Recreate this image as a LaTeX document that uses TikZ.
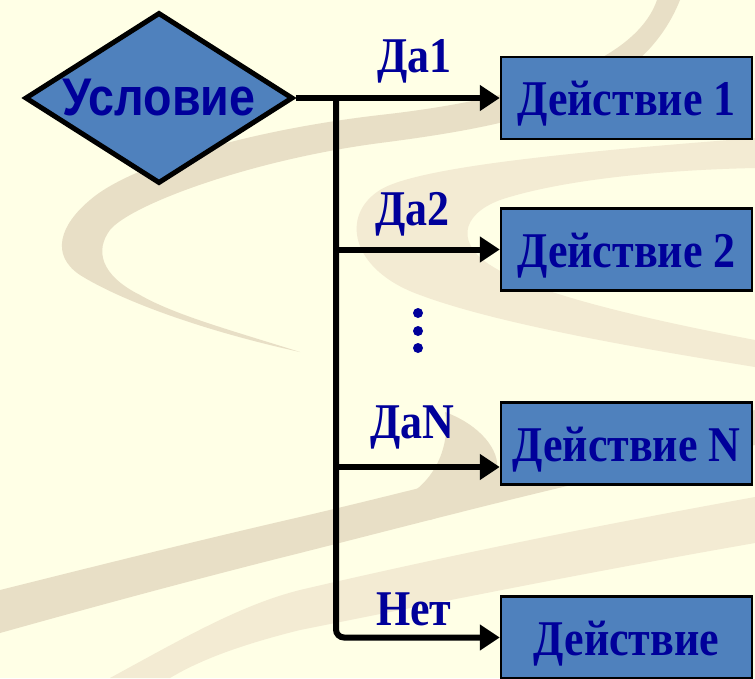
\documentclass[tikz,border=0pt]{standalone}
\usepackage{fontspec}
\usetikzlibrary{shapes.geometric,arrows.meta}
\newfontfamily\serifru[FakeStretch=0.88]{Liberation Serif}
\newfontfamily\sansru[FakeStretch=0.88]{Liberation Sans}
\definecolor{bg}{HTML}{FFFFE6}
\definecolor{bandd}{HTML}{E8DFC6}
\definecolor{bandl}{HTML}{F3EBD3}
\definecolor{boxblue}{HTML}{4F81BD}
\definecolor{navy}{HTML}{00009A}
\tikzset{
  actbox/.style={draw=black, line width=2.5pt, fill=boxblue, minimum width=251pt,
    minimum height=82pt, inner sep=0pt, text=navy, text height=35pt, text depth=0pt,
    font=\serifru\bfseries\fontsize{50}{50}\selectfont},
  decision/.style={diamond, draw=black, line width=5pt, fill=boxblue,
    minimum width=268pt, minimum height=171pt, inner sep=0pt},
  condtext/.style={inner sep=0pt, text=navy, font=\sansru\bfseries\fontsize{53}{53}\selectfont},
  lbl/.style={anchor=base west, inner sep=0pt, text=navy,
    font=\serifru\bfseries\fontsize{50}{50}\selectfont},
  conn/.style={line width=6pt, draw=black},
  arr/.style={conn, -{Triangle[length=20pt,width=25pt]}},
  dotnode/.style={circle, fill=navy, inner sep=0pt, minimum size=10pt}
}
\begin{document}
\begin{tikzpicture}[x=1pt, y=-1pt]
\useasboundingbox (0,0) rectangle (755,678);
\clip (0,0) rectangle (755,678);
\fill[bg] (0,0) rectangle (755,678);
% background swooshes
\fill[bandd] (657,0) .. controls (640,50) and (560,95) .. (380,115)
  .. controls (250,130) and (130,165) .. (90,200)
  .. controls (60,225) and (50,255) .. (80,275)
  .. controls (120,300) and (200,330) .. (300,352)
  .. controls (230,330) and (175,315) .. (140,295)
  .. controls (100,275) and (95,250) .. (110,230)
  .. controls (130,205) and (250,160) .. (380,143)
  .. controls (520,125) and (640,100) .. (680,0) -- cycle;
\fill[bandl] (755,138) .. controls (600,150) and (420,165) .. (380,190)
  .. controls (340,215) and (350,270) .. (420,295)
  .. controls (500,325) and (650,350) .. (755,367) -- (755,340)
  .. controls (650,320) and (540,295) .. (495,268)
  .. controls (455,245) and (460,215) .. (500,200)
  .. controls (560,180) and (660,170) .. (755,168) -- cycle;
\fill[bandd] (0,590) .. controls (100,565) and (200,540) .. (300,517)
  .. controls (450,482) and (600,440) .. (755,410) -- (755,445)
  .. controls (600,475) and (450,515) .. (300,553)
  .. controls (200,578) and (100,605) .. (0,633) -- cycle;
\fill[bandl] (110,678) .. controls (180,640) and (240,605) .. (300,590)
  .. controls (450,555) and (600,525) .. (755,497) -- (755,543)
  .. controls (600,570) and (450,600) .. (300,630)
  .. controls (240,645) and (200,660) .. (170,678) -- cycle;
\fill[bandd] (445,412) .. controls (480,425) and (500,450) .. (497,470)
  .. controls (494,490) and (470,505) .. (430,520) -- (400,500)
  .. controls (440,480) and (450,440) .. (445,412) -- cycle;
% diagram
\node[decision] (cond) at (159,98) {};
\node[condtext] (condt) at (cond.center) {Условие};
\node[actbox] (b1) at (626.5,98) {Действие 1};
\node[actbox] (b2) at (626.5,249.5) {Действие 2};
\node[actbox] (b3) at (626.5,443.5) {Действие N};
\node[actbox] (b4) at (626.5,637.5) {Действие};
\coordinate (j0) at (336,98);
\coordinate (j2) at (336,249.5);
\coordinate (j3) at (336,467);
\draw[arr] (cond.east) -- (b1.west);
\draw[arr, rounded corners=8pt] (j0) |- (b4.west);
\draw[arr] (j2) -- (j2 -| b2.west);
\draw[arr] (j3) -- (j3 -| b3.west);
\node[lbl] (l1) at (377,72) {Да1};
\node[lbl] (l2) at (375,225) {Да2};
\node[lbl] (l3) at (370,438) {ДаN};
\node[lbl] (l4) at (376,625) {Нет};
\node[dotnode] (d1) at (418,313) {};
\node[dotnode] (d2) at (418,331) {};
\node[dotnode] (d3) at (418,348) {};
\end{tikzpicture}
\end{document}
